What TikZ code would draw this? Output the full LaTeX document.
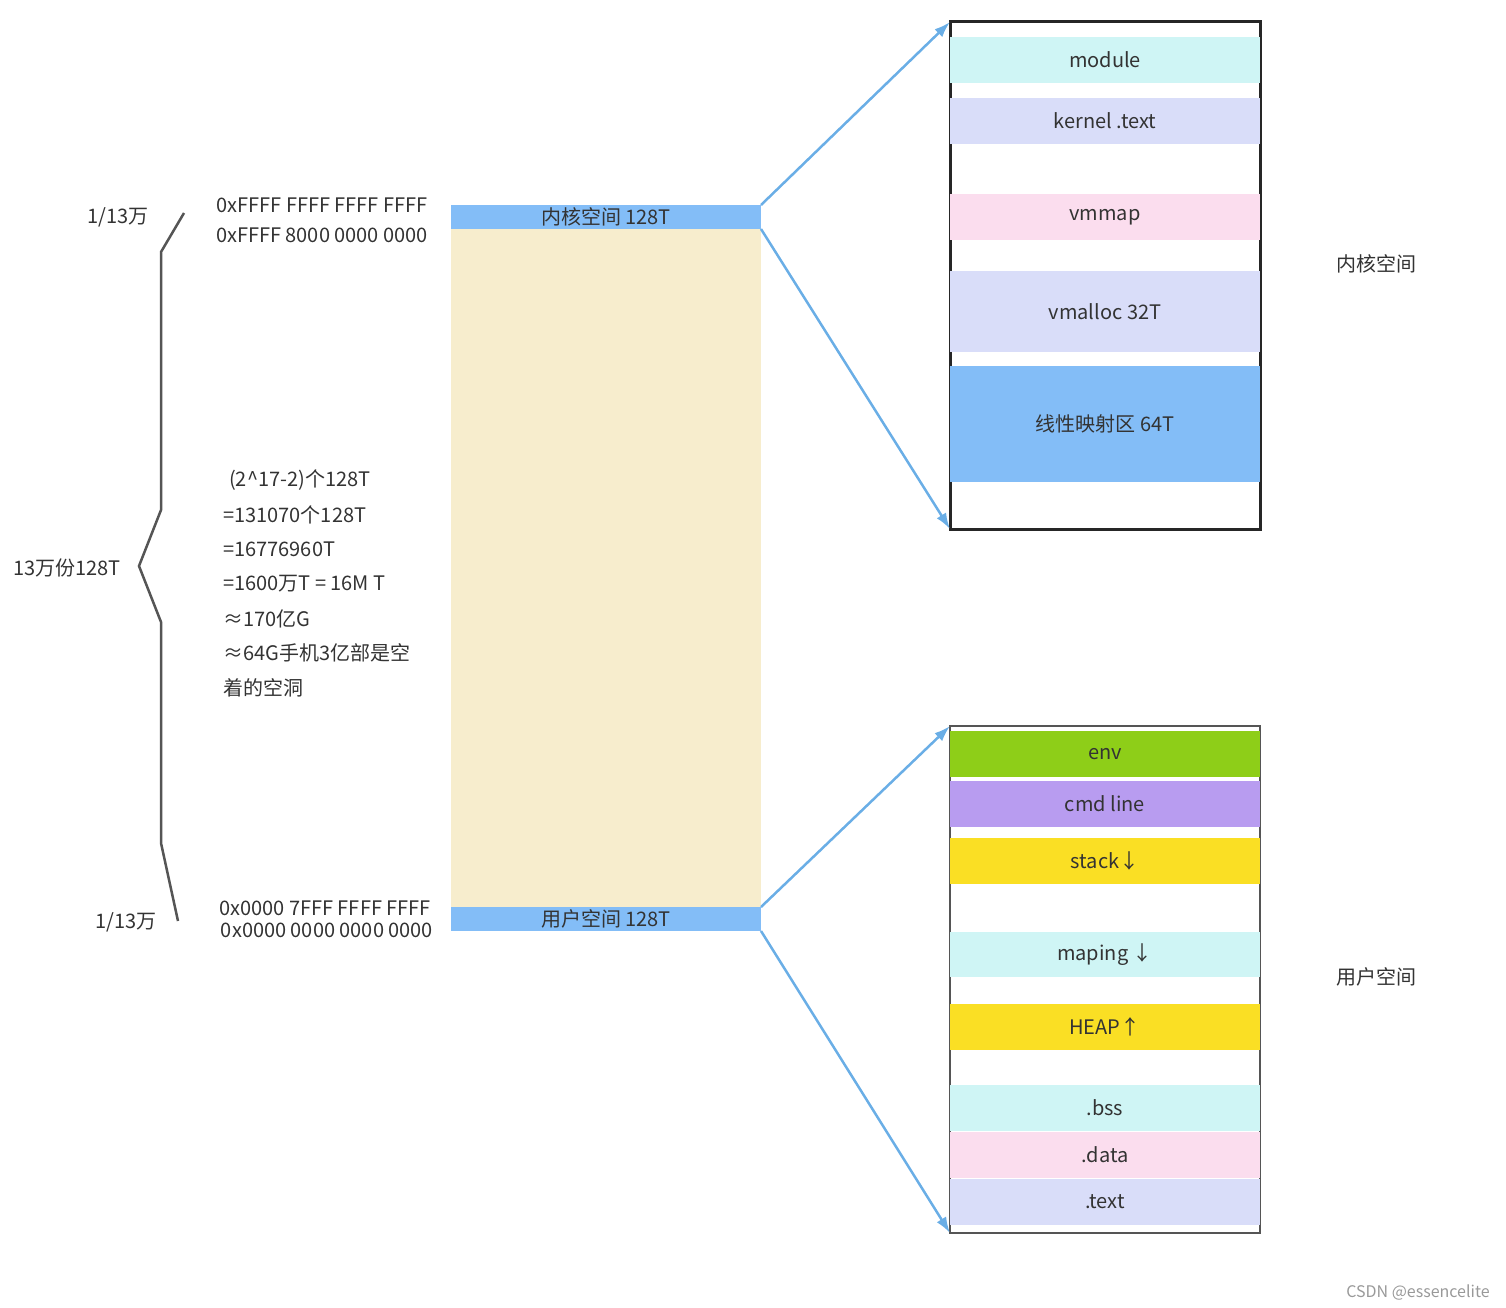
\documentclass[tikz,border=0pt]{standalone}
\usepackage{fontspec}
\setmainfont{Noto Sans CJK SC}
\usetikzlibrary{arrows.meta}
\definecolor{cyanS}{HTML}{CFF5F5}
\definecolor{lavS}{HTML}{D9DDF9}
\definecolor{pinkS}{HTML}{FBDDEE}
\definecolor{blueS}{HTML}{83BDF7}
\definecolor{beigeS}{HTML}{F7EDCD}
\definecolor{greenS}{HTML}{8ECE18}
\definecolor{purpS}{HTML}{B89CF0}
\definecolor{yellS}{HTML}{FADF24}
\definecolor{arrowC}{HTML}{6AAEE6}
\definecolor{txtC}{HTML}{333333}
\definecolor{braceC}{HTML}{555555}
\begin{document}
\begin{tikzpicture}[x=1pt,y=-1pt,
  every node/.style={text=txtC, font=\fontsize{20}{24}\selectfont},
  seg/.style={fill=#1, draw=none, minimum width=310pt, inner sep=0pt, outer sep=0pt},
  bar/.style={fill=#1, draw=none, minimum width=310pt, inner sep=0pt, outer sep=0pt},
  conn/.style={draw=arrowC, line width=2.5pt, -{Latex[length=16pt,width=11pt]}},
  brace/.style={draw=braceC, line width=2.5pt, line join=miter},
  lbl/.style={inner sep=0pt}
]
\useasboundingbox (0,0) rectangle (1506,1308);

% main column
\node[bar=beigeS, minimum height=678pt] (hole) at (606,568) {};
\node[bar=blueS, minimum height=24pt] (ksp) at (606,217) {内核空间 128T};
\node[bar=blueS, minimum height=24pt] (usp) at (606,919) {用户空间 128T};

% kernel box
\node[draw=black!85, line width=3pt, minimum width=310pt, minimum height=507pt, inner sep=0pt, outer sep=0pt] (kbox) at (1105,275.5) {};
\node[seg=cyanS, minimum height=46pt] (module) at (1105,60) {module};
\node[seg=lavS, minimum height=46pt] (ktext) at (1105,121) {kernel .text};
\node[seg=pinkS, minimum height=46pt] (vmmap) at (1105,217) {vmmap};
\node[seg=lavS, minimum height=81pt] (vmalloc) at (1105,311.5) {vmalloc 32T};
\node[seg=blueS, minimum height=116pt] (linear) at (1105,424) {线性映射区 64T};

% user box
\node[draw=braceC, line width=2pt, minimum width=310pt, minimum height=507pt, inner sep=0pt, outer sep=0pt] (ubox) at (1105,979.5) {};
\node[seg=greenS, minimum height=46pt] (env) at (1105,754) {env};
\node[seg=purpS, minimum height=46pt] (cmd) at (1105,804) {cmd line};
\node[seg=yellS, minimum height=46pt] (stack) at (1105,861) {stack↓};
\node[seg=cyanS, minimum height=45pt] (maping) at (1105,954.5) {maping ↓};
\node[seg=yellS, minimum height=46pt] (heap) at (1105,1027) {HEAP↑};
\node[seg=cyanS, minimum height=46pt] (bss) at (1105,1108) {.bss};
\node[seg=pinkS, minimum height=46pt] (data) at (1105,1155) {.data};
\node[seg=lavS, minimum height=46pt] (utext) at (1105,1201.5) {.text};

% connectors
\draw[conn] (ksp.north east) -- (kbox.north west);
\draw[conn] (ksp.south east) -- (kbox.south west);
\draw[conn] (usp.north east) -- (ubox.north west);
\draw[conn] (usp.south east) -- (ubox.south west);

% brace
\coordinate (b1) at (184,213);
\coordinate (b2) at (161,252);
\coordinate (b3) at (161,510);
\coordinate (b4) at (139,566);
\coordinate (b5) at (161,622);
\coordinate (b6) at (161,843);
\coordinate (b7) at (178,921);
\draw[brace] (b1) -- (b2) -- (b3) -- (b4) -- (b5) -- (b6) -- (b7);

% labels
\node[lbl] (top13) at (118,217) {1/13万};
\node[lbl] (mid13) at (67,568) {13万份128T};
\node[lbl] (bot13) at (126,922) {1/13万};
\node[lbl] (a1) at (322,205) {0xFFFF FFFF FFFF FFFF};
\node[lbl] (a2) at (322,235) {0xFFFF 8000 0000 0000};
\node[lbl] (a3) at (325,908) {0x0000 7FFF FFFF FFFF};
\node[lbl] (a4) at (327,930) {0x0000 0000 0000 0000};

\node[lbl, anchor=west] (l1) at (229,480) {(2\textasciicircum 17-2)个128T};
\node[lbl, anchor=west] (l2) at (223,515) {=131070个128T};
\node[lbl, anchor=west] (l3) at (223,549) {=16776960T};
\node[lbl, anchor=west] (l4) at (223,584) {=1600万T = 16M T};
\node[lbl, anchor=west] (l5) at (223,619) {≈170亿G};
\node[lbl, anchor=west] (l6) at (223,653) {≈64G手机3亿部是空};
\node[lbl, anchor=west] (l7) at (223,688) {着的空洞};

\node[lbl] (kname) at (1376,264) {内核空间};
\node[lbl] (uname) at (1376,977) {用户空间};
\node[lbl, text=black!40, font=\fontsize{16}{19}\selectfont] (wm) at (1418,1292) {CSDN @essencelite};
\end{tikzpicture}
\end{document}
